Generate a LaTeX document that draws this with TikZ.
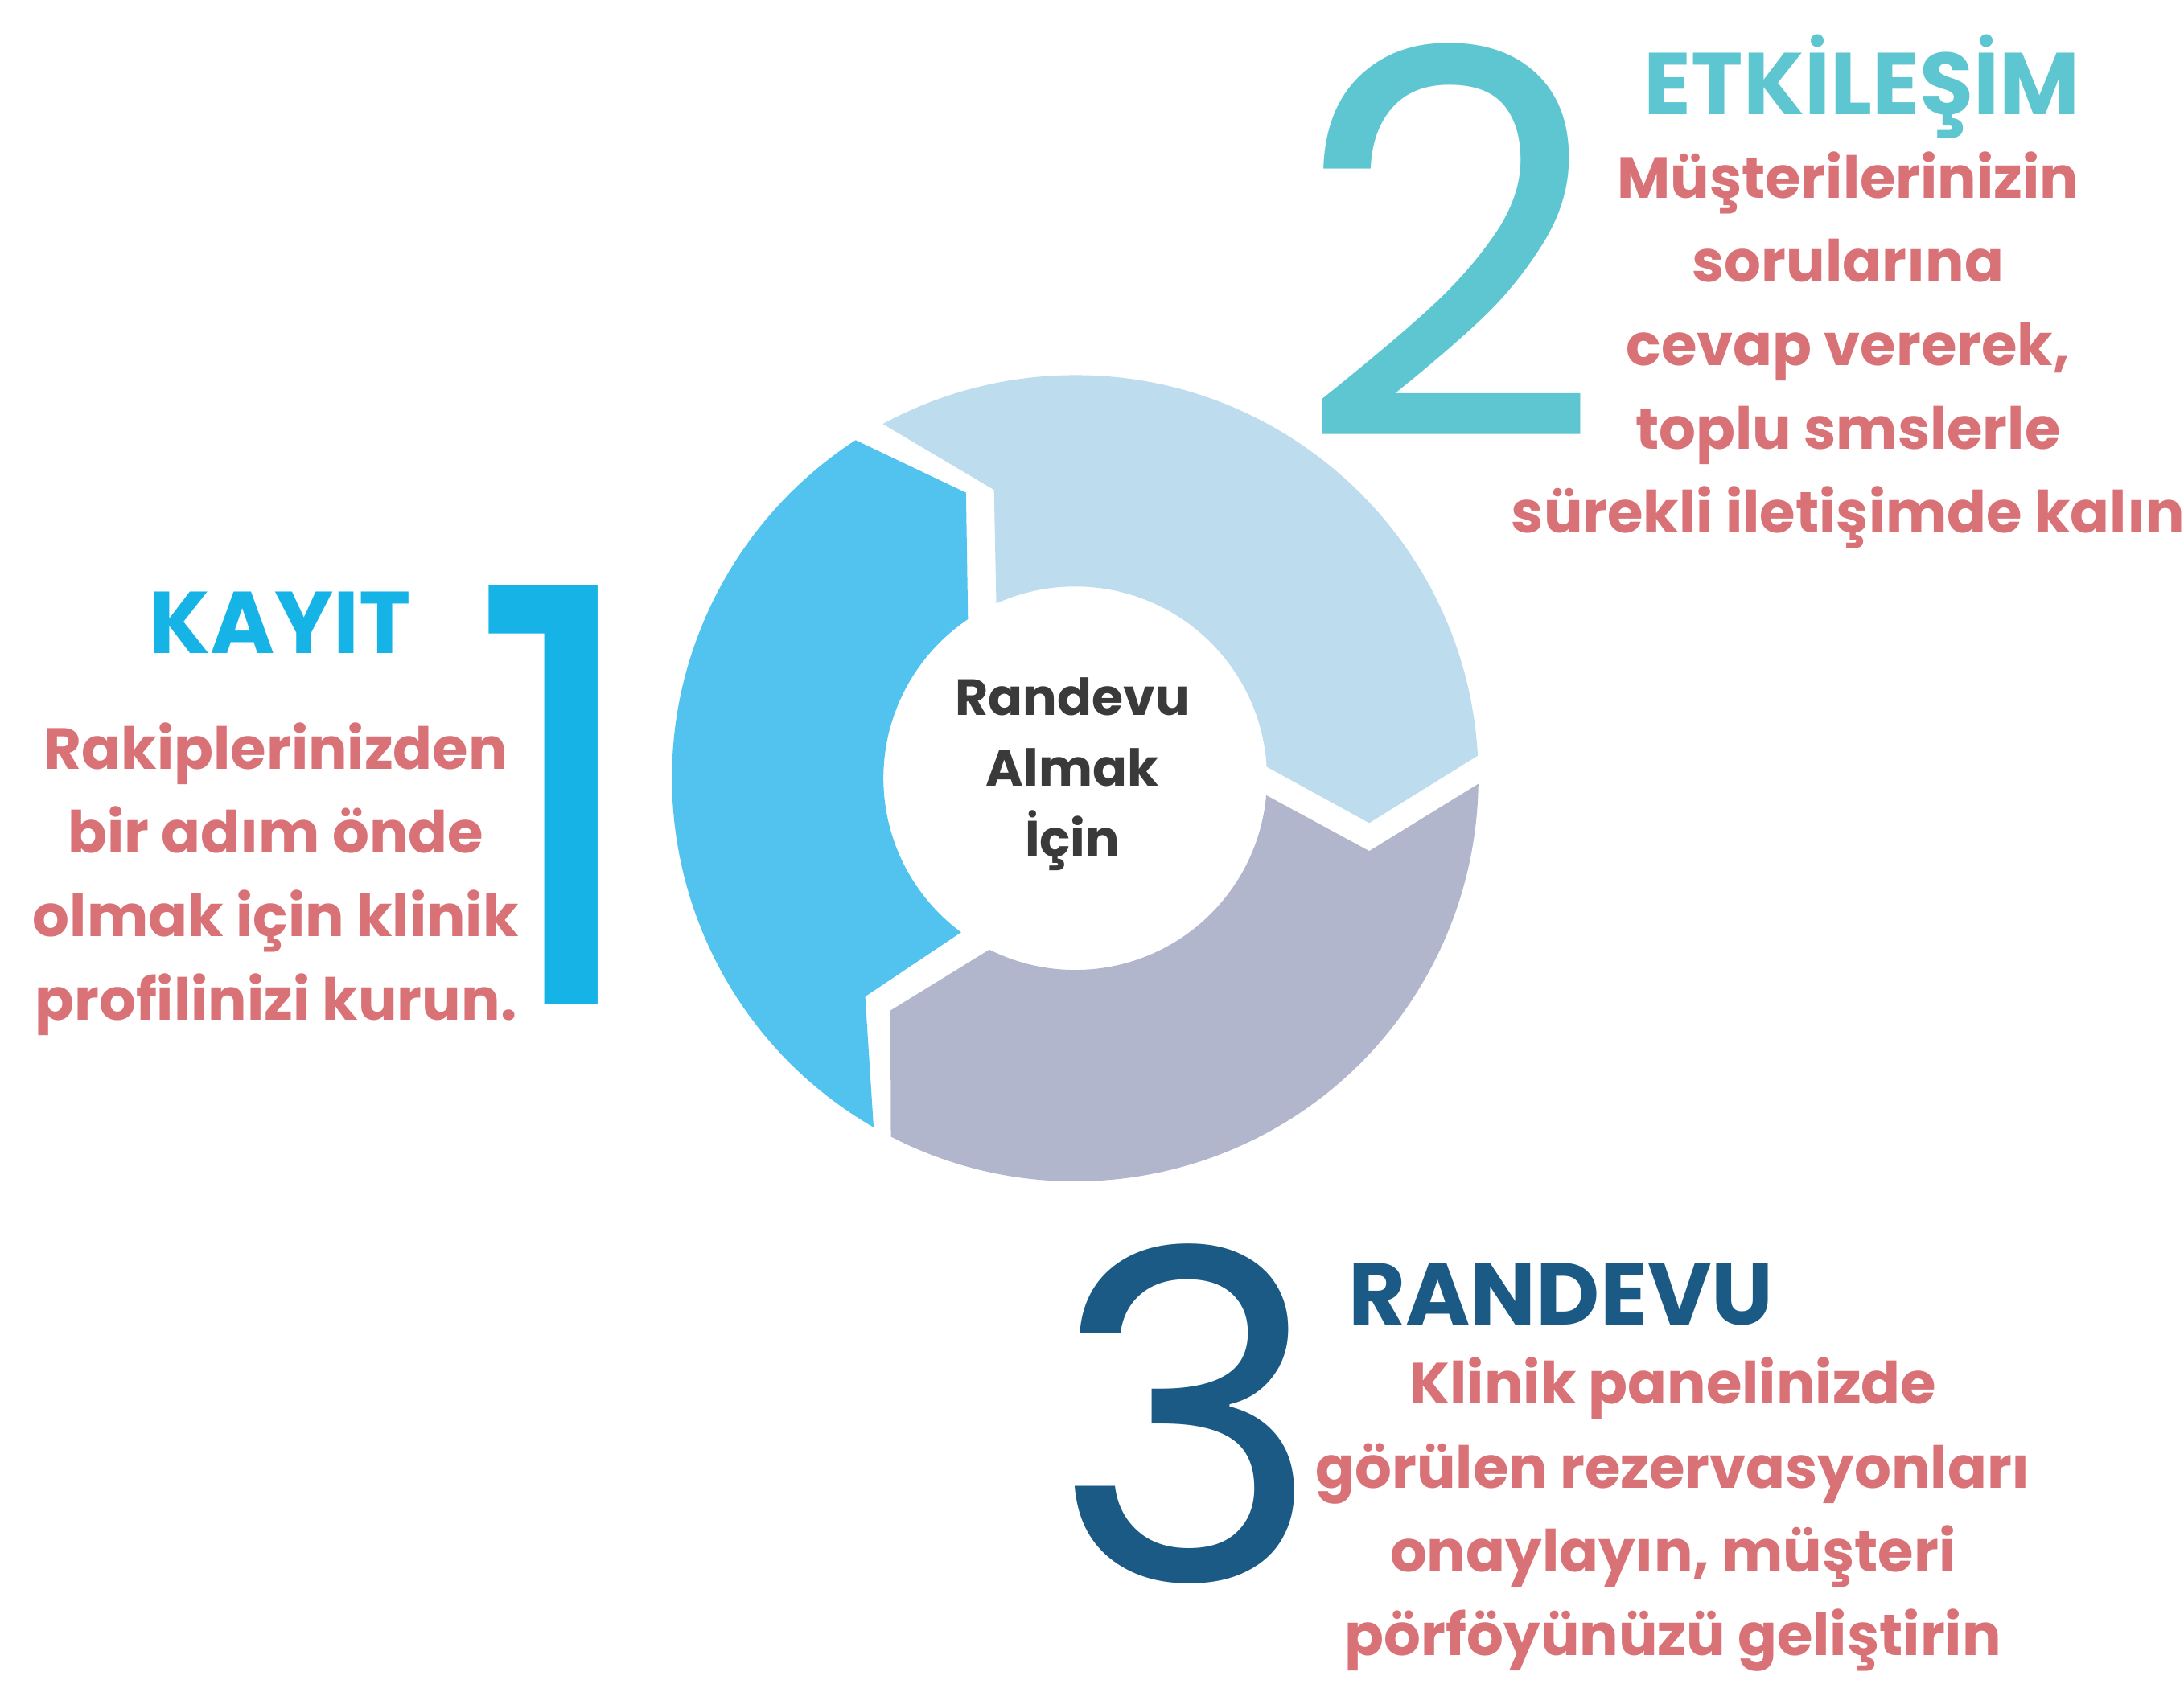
\documentclass[tikz,border=0pt]{standalone}
\usepackage{fontspec}
\setmainfont{Poppins}
\usetikzlibrary{calc}
\begin{document}
\begin{tikzpicture}[x=0.0174cm,y=-0.0174cm,
    segA/.style={fill=segblue},
    segB/.style={fill=seglight},
    segC/.style={fill=seggray},
    bignum/.style={font=\fontsize{#1}{#1}\selectfont, inner sep=0pt},
    title/.style={font=\fontsize{31}{31}\selectfont\bfseries, inner sep=0pt},
    body/.style={font=\fontsize{20.5}{29.6}\selectfont\bfseries, text=bodyred, align=center, inner sep=0pt}
]
\definecolor{segblue}{HTML}{52C3EE}
\definecolor{seglight}{HTML}{BDDCEE}
\definecolor{seggray}{HTML}{B1B6CC}
\definecolor{oneblue}{HTML}{16B4E6}
\definecolor{twoteal}{HTML}{5EC6D0}
\definecolor{threenavy}{HTML}{1A5A85}
\definecolor{bodyred}{HTML}{D97276}
\definecolor{darktext}{HTML}{3A3A3A}

\useasboundingbox (0,0) rectangle (1560,1203);

%------------------------------------------------
% Halka
%------------------------------------------------
\def\R{288}
\def\r{137}
\coordinate (C) at (768,556);

\fill[segA] ($(C)+(237:\R)$) -- (690,352) -- ($(C)+(236:\r)$)
    arc[start angle=236, end angle=126.5, radius=\r] -- (618,712)
    -- ($(C)+(120:\R)$) arc[start angle=120, end angle=237, radius=\R] -- cycle;
\fill[segB] ($(C)+(241.5:\R)$) -- (710,350) -- ($(C)+(245.7:\r)$)
    arc[start angle=245.7, end angle=356.6, radius=\r] -- (978,588)
    -- ($(C)+(356.8:\R)$) arc[start angle=356.8, end angle=241.5, radius=\R] -- cycle;
\fill[segC] ($(C)+(0.8:\R)$) -- (978,608) -- ($(C)+(5.1:\r)$)
    arc[start angle=5.1, end angle=116.6, radius=\r] -- (636,722)
    -- ($(C)+(117.2:\R)$) arc[start angle=117.2, end angle=0.8, radius=\R] -- cycle;

\node[font=\fontsize{18}{25}\selectfont\bfseries, text=darktext, align=center] (merkez) at (766,553) {Randevu\\Almak\\İçin};

%------------------------------------------------
% Rakamlar
%------------------------------------------------
\node[bignum=205, text=oneblue] (bir) at (400,568) {1};
\node[bignum=190, text=twoteal] (iki) at (1035,172) {2};
\node[bignum=162, text=threenavy] (uc) at (848,1010) {3};

%------------------------------------------------
% Başlıklar ve metinler
%------------------------------------------------
\node[title, text=oneblue] (kayit) at (200,445) {KAYIT};
\node[body] (kayitmetin) at (197,628) {Rakiplerinizden\\bir adım önde\\olmak için klinik\\profilinizi kurun.};

\node[title, text=twoteal] (etkilesim) at (1330,62) {ETKİLEŞİM};
\node[body] (etkilesimmetin) at (1320,250) {Müşterilerinizin\\sorularına\\cevap vererek,\\ toplu smslerle\\sürekli iletişimde kalın};

\node[title, text=threenavy] (randevu) at (1115,925) {RANDEVU};
\node[body] (randevumetin) at (1195,1082) {Klinik panelinizde\\görülen rezervasyonları\\onaylayın, müşteri\\pörföyünüzü geliştirin};
\end{tikzpicture}
\end{document}
